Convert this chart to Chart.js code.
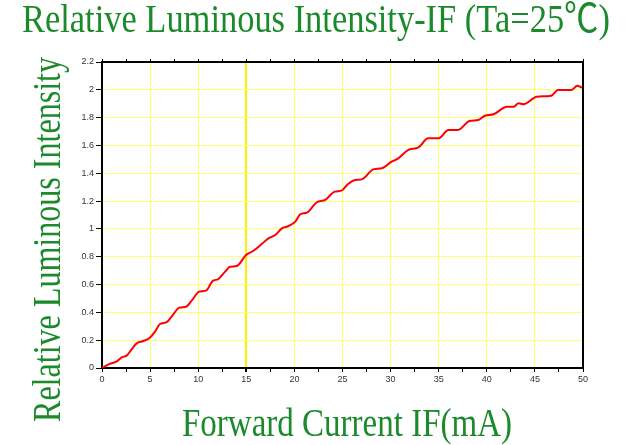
<!DOCTYPE html>
<html>
<head>
<meta charset="utf-8">
<script src="https://cdn.jsdelivr.net/npm/chart.js@4"></script>
<style>
html,body{margin:0;padding:0;background:#fff;}
canvas{display:block;}
</style>
</head>
<body>
<canvas id="c" width="629" height="445"></canvas>
<script>
const chartTitle = 'Relative Luminous Intensity-IF (Ta=25\u2103)';
const xAxisTitle = 'Forward Current IF(mA)';
const yAxisTitle = 'Relative Luminous Intensity';

const current = [0, 0.8, 1.5, 2.05, 2.56, 3.08, 3.6, 4.3, 5.0, 5.5, 6.03, 6.72, 7.24, 8.04, 8.73, 9.32, 10.1, 10.8, 11.5, 12.1, 12.8, 13.3, 14.0, 14.97, 15.7, 16.6, 17.3, 18.0, 18.7, 19.4, 20.1, 20.6, 21.3, 22.3, 23.2, 24.2, 24.9, 25.5, 26.3, 27.0, 28.2, 29.1, 30.1, 30.8, 31.8, 32.9, 33.9, 35.0, 36.0, 37.0, 38.2, 39.1, 39.8, 40.7, 42.1, 42.8, 43.3, 43.8, 45.2, 46.7, 47.4, 48.8, 49.4, 49.9];
const intensity = [0, 0.03, 0.045, 0.077, 0.089, 0.134, 0.177, 0.194, 0.22, 0.26, 0.316, 0.33, 0.37, 0.434, 0.44, 0.484, 0.549, 0.556, 0.625, 0.64, 0.693, 0.728, 0.733, 0.812, 0.841, 0.891, 0.932, 0.956, 1.004, 1.021, 1.052, 1.105, 1.117, 1.19, 1.208, 1.268, 1.275, 1.318, 1.352, 1.356, 1.428, 1.436, 1.483, 1.507, 1.567, 1.586, 1.651, 1.651, 1.711, 1.711, 1.776, 1.783, 1.814, 1.824, 1.879, 1.879, 1.903, 1.896, 1.95, 1.958, 1.999, 1.999, 2.03, 2.015];

const xTickLabels = ['0','5','10','15','20','25','30','35','40','45','50'];
const yTickLabels = ['0','0.2','0.4','0.6','0.8','1','1.2','1.4','1.6','1.8','2','2.2'];

const GREEN = '#1b8a2b';
const SERIF = '"Liberation Serif", "Noto Sans CJK SC"';

function fitText(ctx, text, size, x0, x1, baseline) {
  ctx.font = size + 'px ' + SERIF;
  const w = ctx.measureText(text).width;
  const sx = (x1 - x0) / w;
  ctx.save();
  ctx.translate(x0, baseline);
  ctx.scale(sx, 1);
  ctx.textAlign = 'left';
  ctx.textBaseline = 'alphabetic';
  ctx.fillStyle = GREEN;
  ctx.fillText(text, 0, 0);
  ctx.restore();
}

const titlesPlugin = {
  id: 'titles',
  afterDraw(chart) {
    const ctx = chart.ctx;
    fitText(ctx, chartTitle, 40, 22, 610, 32);
    fitText(ctx, xAxisTitle, 40, 182, 512, 436);
    ctx.save();
    ctx.font = '41px ' + SERIF;
    const w = ctx.measureText(yAxisTitle).width;
    const sx = (422 - 57) / w;
    ctx.translate(60, 422);
    ctx.rotate(-Math.PI / 2);
    ctx.scale(sx, 1);
    ctx.textAlign = 'left';
    ctx.textBaseline = 'alphabetic';
    ctx.fillStyle = GREEN;
    ctx.fillText(yAxisTitle, 0, 0);
    ctx.restore();
  }
};

const bgPlugin = {
  id: 'bg',
  beforeDraw(chart) {
    const ctx = chart.ctx;
    ctx.save();
    ctx.fillStyle = '#fff';
    ctx.fillRect(0, 0, chart.width, chart.height);
    ctx.restore();
  }
};

const tickFont = { family: '"Liberation Sans"', size: 9 };

new Chart(document.getElementById('c'), {
  type: 'line',
  data: {
    datasets: [{
      data: current.map((x, i) => ({ x: x, y: intensity[i] })),
      borderColor: '#ff0000',
      borderWidth: 2,
      pointRadius: 0,
      tension: 0.3,
      cubicInterpolationMode: 'monotone',
      fill: false
    }]
  },
  options: {
    responsive: false,
    animation: false,
    layout: { padding: { top: 54, left: 0, right: 0, bottom: 0 } },
    plugins: { legend: { display: false }, title: { display: false }, tooltip: { enabled: false } },
    scales: {
      x: {
        type: 'linear', position: 'bottom', min: 0, max: 50,
        afterBuildTicks(s) { s.ticks = Array.from({ length: 21 }, (_, i) => ({ value: i * 2.5 })); },
        afterFit(s) { s.height = 77; },
        ticks: {
          font: tickFont, color: '#333', padding: 2, maxRotation: 0, autoSkip: false,
          callback(v) { const k = Math.round(v / 5); return Math.abs(v - k * 5) < 1e-6 ? xTickLabels[k] : ''; }
        },
        grid: {
          color(c) { const v = c.tick ? c.tick.value : 0; if (Math.abs(v % 5) > 1e-6) return 'rgba(0,0,0,0)'; return v === 15 ? '#ffee00' : '#ffff70'; },
          lineWidth(c) { const v = c.tick ? c.tick.value : 0; return v === 15 ? 2 : 1; },
          tickColor: '#000', tickLength: 4, drawTicks: true
        },
        border: { color: '#000', width: 2 }
      },
      x2: {
        type: 'linear', position: 'top', min: 0, max: 50,
        afterBuildTicks(s) { s.ticks = Array.from({ length: 21 }, (_, i) => ({ value: i * 2.5 })); },
        afterFit(s) { s.height = 8; },
        ticks: { display: false },
        grid: { drawOnChartArea: false, tickColor: '#000', tickLength: 3 },
        border: { color: '#000', width: 2 }
      },
      y: {
        type: 'linear', position: 'left', min: 0, max: 2.2,
        afterBuildTicks(s) { s.ticks = yTickLabels.map((_, i) => ({ value: i * 0.2 })); },
        afterFit(s) { s.width = 102; },
        ticks: {
          font: tickFont, color: '#333', padding: 2, autoSkip: false,
          callback(v) { return yTickLabels[Math.round(v / 0.2)]; }
        },
        grid: { color: '#ffff70', lineWidth: 1, tickColor: '#000', tickLength: 6 },
        border: { color: '#000', width: 2 }
      },
      y2: {
        type: 'linear', position: 'right', min: 0, max: 2.2,
        afterFit(s) { s.width = 46; },
        ticks: { display: false },
        grid: { drawOnChartArea: false, drawTicks: false },
        border: { color: '#000', width: 2 }
      }
    }
  },
  plugins: [bgPlugin, titlesPlugin]
});
</script>
</body>
</html>
